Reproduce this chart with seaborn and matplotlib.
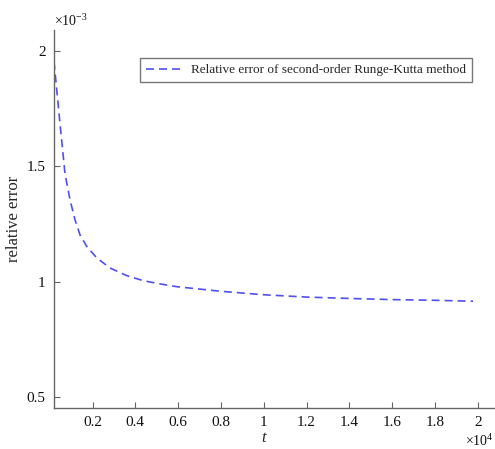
import numpy as np
import pandas as pd
import seaborn as sns
import matplotlib
matplotlib.use("Agg")
import matplotlib.pyplot as plt
from matplotlib.ticker import ScalarFormatter

# data
t_values = [200, 448, 714, 948, 1181, 1415, 1728, 2195, 2817, 3597, 4373,
            5153, 5934, 8000, 10000, 12000, 14000, 16000, 18000, 19780]
rel_error = [1.954e-3, 1.716e-3, 1.467e-3, 1.355e-3, 1.268e-3, 1.203e-3,
             1.153e-3, 1.103e-3, 1.059e-3, 1.026e-3, 1.004e-3, 0.990e-3,
             0.978e-3, 0.958e-3, 0.943e-3, 0.933e-3, 0.927e-3, 0.922e-3,
             0.919e-3, 0.915e-3]
x_ticks = [2000, 4000, 6000, 8000, 10000, 12000, 14000, 16000, 18000, 20000]
y_ticks = [0.5e-3, 1.0e-3, 1.5e-3, 2.0e-3]
series_label = "Relative error of second-order Runge-Kutta method"

sns.set_style("ticks")
plt.rcParams['font.family'] = ['Liberation Serif', 'DejaVu Serif']
plt.rcParams['mathtext.fontset'] = 'custom'
plt.rcParams['mathtext.rm'] = 'Liberation Serif'
plt.rcParams['mathtext.it'] = 'Liberation Serif:italic'


class GFormatter(ScalarFormatter):
    def _set_format(self):
        self.format = '%g'


df = pd.DataFrame({"t": t_values, "err": rel_error, "series": series_label})

fig = plt.figure(figsize=(4.95, 4.49), dpi=100)
ax = fig.add_axes([54/495, 1-408/449, 440/495, 378/449])

sns.lineplot(data=df, x="t", y="err", hue="series", palette=["#5050f2"],
             ax=ax, linewidth=1.2)
for ln in ax.lines:
    ln.set_dashes((4.8, 3.0))

ax.set_xlim(200, 20760)
ax.set_ylim(0.452e-3, 2.091e-3)
ax.set_xticks(x_ticks)
ax.set_yticks(y_ticks)

for axis in (ax.xaxis, ax.yaxis):
    fmt = GFormatter(useMathText=True)
    fmt.set_powerlimits((0, 0))
    axis.set_major_formatter(fmt)

spine_color = "#666666"
for s in ("top", "right"):
    ax.spines[s].set_visible(False)
for s in ("left", "bottom"):
    ax.spines[s].set_color(spine_color)
    ax.spines[s].set_linewidth(1.0)
ax.tick_params(direction="in", length=4, width=0.8, color=spine_color,
               labelsize=11, labelcolor="#111111", pad=6)
ax.xaxis.get_offset_text().set_fontsize(10)
ax.yaxis.get_offset_text().set_fontsize(10)

ax.set_xlabel("t", fontsize=12, fontstyle="italic")
ax.xaxis.set_label_coords((264-54)/440, -0.058)
ax.set_ylabel("relative error", fontsize=12, labelpad=3)

leg = ax.legend(loc="upper left", bbox_to_anchor=(0.195, 0.926),
                borderaxespad=0, fontsize=9.5, frameon=True, fancybox=False,
                handlelength=3.0, handletextpad=0.4, borderpad=0.45)
leg.get_frame().set_edgecolor("#555555")
leg.get_frame().set_linewidth(1.0)

fig.savefig("out.png", dpi=100)
